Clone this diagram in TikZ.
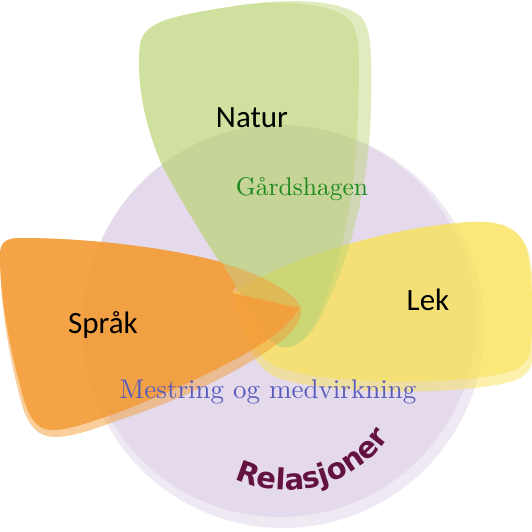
\documentclass[tikz,border=0pt]{standalone}
\usepackage{fontspec}
\newfontfamily\labelfont{Carlito}
\newfontfamily\relfont{DejaVu Sans}
\newfontfamily\serifface{lmroman10-regular.otf}
\usetikzlibrary{decorations.text}
\definecolor{ringlight}{RGB}{239,233,243}
\definecolor{ring}{RGB}{228,218,235}
\definecolor{leaf}{RGB}{188,211,116}
\definecolor{sun}{RGB}{249,226,89}
\definecolor{peach}{RGB}{243,157,56}
\definecolor{garden}{RGB}{28,138,28}
\definecolor{mastery}{RGB}{88,90,190}
\definecolor{bond}{RGB}{100,18,63}
\begin{document}
\begin{tikzpicture}[x=1pt, y=-1pt,
    word/.style={font=\labelfont\fontsize{31}{31}\selectfont, anchor=base},
    serif/.style={font=\serifface\fontsize{27}{27}\selectfont, anchor=base}]
    \useasboundingbox (0,0) rectangle (532,532);
    % relasjoner
    \fill[ringlight] (283,327) circle[radius=201];
    \fill[ring] (280,321) circle[radius=196];
    % lek
    \fill[sun, fill opacity=0.5] (232,293) .. controls (280,262) and (380,228) .. (470,222)
        .. controls (505,220) and (520,232) .. (527,248)
        .. controls (535,270) and (536,340) .. (532,362)
        .. controls (528,378) and (515,382) .. (490,386)
        .. controls (440,394) and (330,395) .. (278,378)
        .. controls (250,368) and (243,330) .. cycle;
    \fill[sun, fill opacity=0.6] (232,293) .. controls (280,262) and (380,228) .. (470,222)
        .. controls (505,220) and (518,230) .. (525,245)
        .. controls (533,265) and (534,330) .. (530,350)
        .. controls (527,368) and (515,372) .. (490,376)
        .. controls (440,384) and (330,385) .. (280,368)
        .. controls (255,360) and (245,330) .. cycle;
    % natur
    \fill[leaf, fill opacity=0.45] (140,45) .. controls (143,22) and (170,16) .. (235,6)
        .. controls (290,-3) and (345,0) .. (362,18)
        .. controls (372,30) and (372,60) .. (371,110)
        .. controls (368,200) and (345,270) .. (320,318)
        .. controls (305,347) and (285,355) .. (270,340)
        .. controls (245,300) and (195,228) .. (162,165)
        .. controls (140,115) and (137,70) .. cycle;
    \fill[leaf, fill opacity=0.45] (140,45) .. controls (143,22) and (170,16) .. (235,6)
        .. controls (290,-2) and (335,5) .. (350,20)
        .. controls (360,32) and (360,60) .. (358,110)
        .. controls (356,200) and (340,265) .. (318,318)
        .. controls (303,347) and (285,355) .. (270,340)
        .. controls (245,300) and (195,228) .. (162,165)
        .. controls (140,115) and (137,70) .. cycle;
    % spraak
    \fill[peach, fill opacity=0.5] (0,255) .. controls (0,243) and (5,238) .. (20,238)
        .. controls (90,238) and (170,248) .. (222,263)
        .. controls (255,272) and (292,290) .. (300,306)
        .. controls (304,318) and (295,330) .. (280,342)
        .. controls (240,372) and (180,400) .. (119,420)
        .. controls (92,430) and (72,437) .. (54,437)
        .. controls (38,437) and (28,425) .. (22,405)
        .. controls (8,355) and (0,300) .. cycle;
    \fill[peach, fill opacity=0.86] (0,255) .. controls (0,243) and (5,238) .. (20,238)
        .. controls (90,238) and (170,248) .. (221,262)
        -- (236,286) -- (232,293) -- (299,308)
        .. controls (285,340) and (200,380) .. (117,413)
        .. controls (90,422) and (70,430) .. (52,430)
        .. controls (38,430) and (30,420) .. (24,400)
        .. controls (10,350) and (0,300) .. cycle;

    \node[word] (natur) at (252,127) {Natur};
    \node[word] (lek) at (428,310) {Lek};
    \node[word] (spraak) at (103,333) {Språk};
    \node[serif, text=garden, font=\serifface\fontsize{25.5}{25.5}\selectfont] (gard) at (302,195) {Gårdshagen};
    \node[serif, text=mastery] (mestring) at (268,398) {Mestring og medvirkning};
    \path[decorate, decoration={text along path, text align=center, text color=bond,
        text={|\relfont\bfseries\fontsize{29}{29}\selectfont|Relasjoner}}]
        (287,365) ++(117:125) arc[start angle=117, end angle=33, radius=125];
\end{tikzpicture}
\end{document}
